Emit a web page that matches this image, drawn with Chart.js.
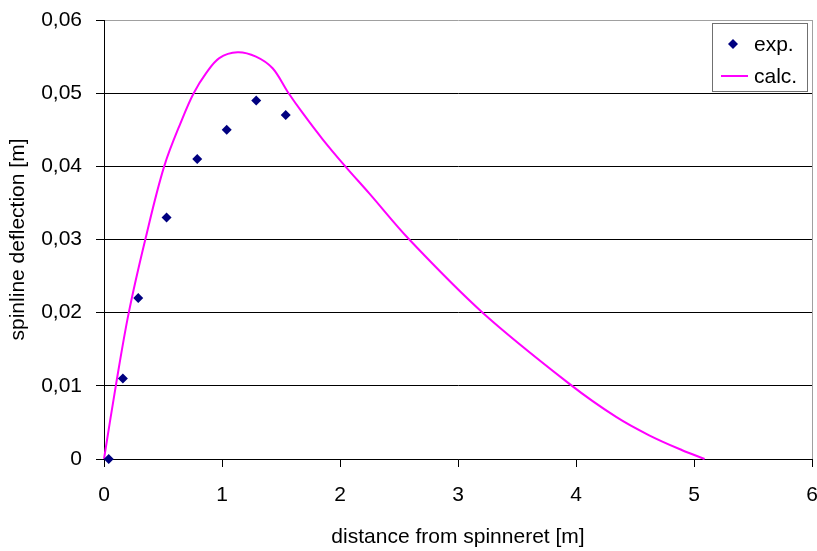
<!DOCTYPE html>
<html>
<head>
<meta charset="utf-8">
<script src="https://cdn.jsdelivr.net/npm/chart.js@4"></script>
<style>
    html, body { margin: 0; padding: 0; background: #fff; }
    #wrap { width: 817px; height: 551px; }
</style>
</head>
<body>
<div id="wrap"><canvas id="chart" width="817" height="551"></canvas></div>
<script>
// measured points (exp.)
const expX = [0.04, 0.16, 0.29, 0.53, 0.79, 1.04, 1.29, 1.54];
const expY = [0.0, 0.011, 0.022, 0.033, 0.041, 0.045, 0.049, 0.047];

// calculated spinline (calc.)
const calcX = [0, 0.1, 0.21, 0.35, 0.51, 0.666, 0.76, 0.864, 0.977, 1.132, 1.288, 1.429, 1.556, 1.683, 1.853, 2.045, 2.248, 2.587, 3.209, 3.95, 4.34, 4.62, 4.90, 5.09];
const calcY = [0, 0.010, 0.020, 0.030, 0.040, 0.0466, 0.050, 0.0527, 0.0548, 0.0556, 0.0550, 0.0534, 0.0502, 0.0473, 0.0437, 0.040, 0.0363, 0.030, 0.020, 0.0102, 0.00575, 0.00324, 0.0012, 0];

const seriesLabels = ['exp.', 'calc.'];
const xTitle = 'distance from spinneret [m]';
const yTitle = 'spinline deflection [m]';

const FONT = "'Liberation Sans', Arial, sans-serif";

const toPoints = (xs, ys) => xs.map((x, i) => ({ x: x, y: ys[i] }));

// legend in a box, like the original
const boxLegend = {
    id: 'boxLegend',
    afterDraw: (chart) => {
        const ctx = chart.ctx;
        const exp = chart.data.datasets[0];
        const calc = chart.data.datasets[1];
        ctx.save();
        ctx.fillStyle = '#fff';
        ctx.fillRect(712.5, 23.5, 95, 68);
        ctx.strokeStyle = '#707070';
        ctx.lineWidth = 1;
        ctx.strokeRect(712.5, 23.5, 95, 68);

        // diamond
        ctx.fillStyle = exp.backgroundColor;
        ctx.beginPath();
        ctx.moveTo(733, 39);
        ctx.lineTo(738, 44);
        ctx.lineTo(733, 49);
        ctx.lineTo(728, 44);
        ctx.closePath();
        ctx.fill();

        // line
        ctx.strokeStyle = calc.borderColor;
        ctx.lineWidth = 2;
        ctx.beginPath();
        ctx.moveTo(721, 76);
        ctx.lineTo(748, 76);
        ctx.stroke();

        ctx.fillStyle = '#000';
        ctx.font = '21px ' + FONT;
        ctx.textBaseline = 'middle';
        ctx.textAlign = 'left';
        ctx.fillText(exp.label, 754, 45);
        ctx.fillText(calc.label, 754, 77);
        ctx.restore();
    }
};

new Chart(document.getElementById('chart'), {
    type: 'scatter',
    data: {
        datasets: [{
            label: seriesLabels[0],
            data: toPoints(expX, expY),
            pointStyle: 'rectRot',
            pointRadius: 5,
            pointHoverRadius: 5,
            backgroundColor: '#000080',
            borderColor: '#000080',
            borderWidth: 0,
            clip: false
        }, {
            label: seriesLabels[1],
            data: toPoints(calcX, calcY),
            showLine: true,
            borderColor: '#FF00FF',
            backgroundColor: '#FF00FF',
            borderWidth: 2,
            pointRadius: 0,
            pointHoverRadius: 0,
            tension: 0.35,
            clip: false
        }]
    },
    options: {
        responsive: false,
        animation: false,
        layout: { padding: { left: 0, right: 4, top: 20, bottom: 0 } },
        plugins: {
            legend: { display: false },
            tooltip: { enabled: false }
        },
        scales: {
            x: {
                type: 'linear',
                min: 0,
                max: 6,
                afterFit: (s) => { s.height = 92; s.paddingRight = 0; s.paddingLeft = 0; },
                border: { color: '#000', width: 1 },
                grid: {
                    color: (c) => (c.tick && c.tick.value === 6) ? '#a0a0a0' : 'rgba(0,0,0,0)',
                    tickColor: '#000',
                    tickLength: 8,
                    lineWidth: 1
                },
                ticks: {
                    stepSize: 1,
                    padding: 16,
                    color: '#000',
                    font: { family: FONT, size: 21 }
                },
                title: {
                    display: true,
                    text: xTitle,
                    color: '#000',
                    font: { family: FONT, size: 21 },
                    padding: { top: 0, bottom: 1 }
                }
            },
            y: {
                type: 'linear',
                min: 0,
                max: 0.06,
                afterFit: (s) => { s.width = 104; s.paddingTop = 0; s.paddingBottom = 0; },
                border: { color: '#000', width: 1 },
                grid: {
                    color: (c) => (c.tick && c.tick.value >= 0.0599) ? '#a0a0a0' : '#000',
                    tickColor: '#000',
                    tickLength: 8,
                    lineWidth: 1
                },
                ticks: {
                    stepSize: 0.01,
                    padding: 14,
                    color: '#000',
                    font: { family: FONT, size: 21 },
                    callback: (v) => v === 0 ? '0' : v.toFixed(2).replace('.', ',')
                },
                title: {
                    display: true,
                    text: yTitle,
                    color: '#000',
                    font: { family: FONT, size: 21 },
                    padding: { top: 6, bottom: 0 }
                }
            }
        }
    },
    plugins: [boxLegend]
});
</script>
</body>
</html>
